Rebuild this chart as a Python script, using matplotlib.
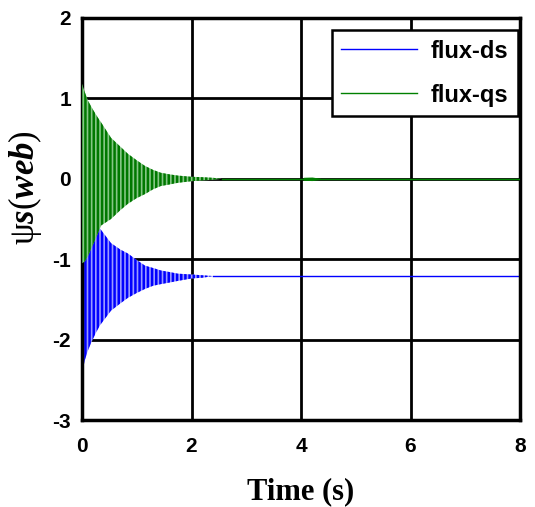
import numpy as np
import matplotlib
matplotlib.use("Agg")
import matplotlib.pyplot as plt

plt.rcParams['axes.unicode_minus'] = False
plt.rcParams['hatch.linewidth'] = 1.8
plt.rcParams['mathtext.fontset'] = 'custom'
plt.rcParams['mathtext.rm'] = 'Liberation Serif'
plt.rcParams['mathtext.it'] = 'Liberation Serif:italic:bold'

# flux-qs: envelope of the oscillation
t_qs = [0.0, 0.05, 0.11, 0.2, 0.29, 0.35, 0.53, 0.7, 0.84, 1.0, 1.15, 1.3,
        1.44, 1.6, 1.75, 2.0, 2.2, 2.4, 2.55]
qs_hi = [1.18, 1.08, 0.97, 0.86, 0.76, 0.70, 0.51, 0.40, 0.31, 0.23, 0.16,
         0.11, 0.075, 0.055, 0.04, 0.025, 0.02, 0.012, 0.0]
qs_lo = [-1.05, -1.03, -0.96, -0.82, -0.68, -0.58, -0.50, -0.39, -0.31,
         -0.24, -0.19, -0.13, -0.09, -0.07, -0.05, -0.03, -0.02, -0.012, 0.0]
t_qs_blip = [4.05, 4.2, 4.35]
qs_blip_hi = [0.012, 0.015, 0.0]
qs_blip_lo = [-0.012, -0.015, 0.0]
t_qs_ss = [2.55, 8.0]
qs_ss = [0.0, 0.0]

# flux-ds
t_ds = [0.0, 0.05, 0.1, 0.16, 0.25, 0.33, 0.53, 0.7, 0.84, 1.0, 1.15, 1.3,
        1.44, 1.6, 1.75, 2.0, 2.2, 2.4]
ds_hi = [-0.1, -0.2, -0.3, -0.4, -0.52, -0.62, -0.80, -0.88, -0.93, -1.01,
         -1.08, -1.11, -1.14, -1.16, -1.18, -1.19, -1.20, -1.21]
ds_lo = [-2.43, -2.26, -2.15, -2.05, -1.92, -1.82, -1.64, -1.55, -1.48,
         -1.42, -1.37, -1.33, -1.31, -1.29, -1.27, -1.24, -1.23, -1.21]
t_ds_ss = [2.4, 8.0]
ds_ss = [-1.21, -1.21]

xticks = [0, 2, 4, 6, 8]
yticks = [-3, -2, -1, 0, 1, 2]

fig = plt.figure(figsize=(5.35, 5.07), dpi=100)
ax = fig.add_axes([82 / 535, 87 / 507, 438 / 535, 402 / 507])

# blue first, green drawn on top
ax.fill_between(t_ds, ds_lo, ds_hi, facecolor='#9a9aff', edgecolor='#0000ff',
                hatch='||||', linewidth=0, zorder=2)
ax.plot(t_ds_ss, ds_ss, color='#0000ff', lw=1, label='flux-ds', zorder=2)

ax.fill_between(t_qs, qs_lo, qs_hi, facecolor='#86c686', edgecolor='#007800',
                hatch='||||', linewidth=0, zorder=3)
ax.fill_between(t_qs_blip, qs_blip_lo, qs_blip_hi, facecolor='#008000',
                linewidth=0.8, edgecolor='#008000', zorder=3)
ax.plot(t_qs_ss, qs_ss, color='#008000', lw=1, label='flux-qs', zorder=3)

ax.set_xlim(0, 8)
ax.set_ylim(-3, 2)
ax.set_xticks(xticks)
ax.set_yticks(yticks)
ax.grid(True, color='black', lw=2, zorder=1)
ax.set_axisbelow(True)
ax.tick_params(axis='x', length=0, pad=12)
ax.tick_params(axis='y', length=0, pad=8)
for lab in ax.get_xticklabels() + ax.get_yticklabels():
    lab.set_fontfamily('Liberation Sans')
    lab.set_fontweight('bold')
    lab.set_fontsize(15)
for sp in ax.spines.values():
    sp.set_linewidth(2.5)

ax.set_xlabel('Time (s)', family='Liberation Serif', weight='bold',
              fontsize=22)
ax.xaxis.set_label_coords(0.5, -0.143)
ax.set_ylabel(r'$\mathrm{\psi}s(web)$', fontsize=25)
ax.yaxis.set_label_coords(-0.087, 0.577)

leg = ax.legend(loc='upper right', bbox_to_anchor=(0.9954, 0.97),
                fancybox=False, framealpha=1, edgecolor='black',
                borderaxespad=0, handlelength=3.2, borderpad=0.4,
                labelspacing=0.9, handletextpad=0.6,
                prop={'family': 'Liberation Sans', 'weight': 'bold', 'size': 17})
leg.get_frame().set_linewidth(1.8)

fig.savefig('out.png', dpi=100)
